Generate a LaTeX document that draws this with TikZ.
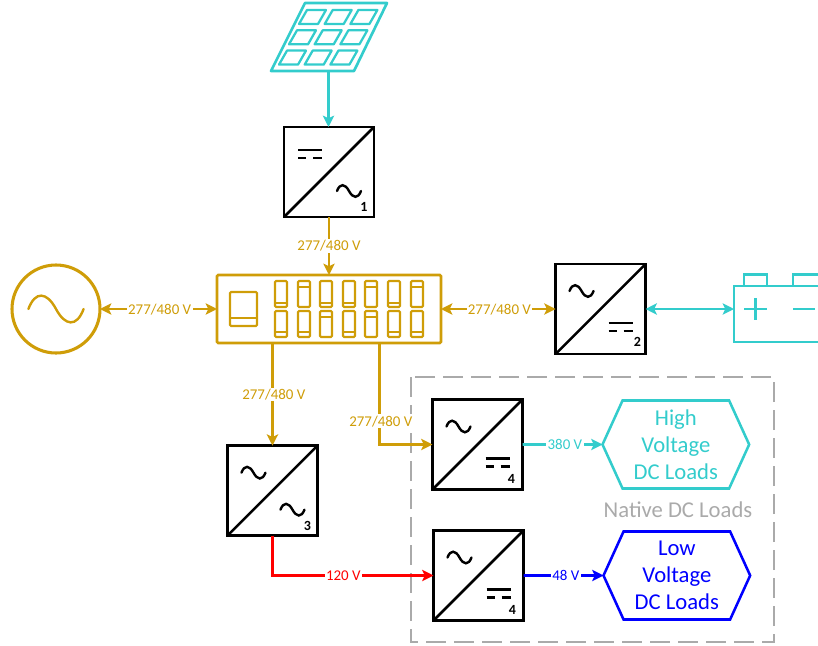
\documentclass[tikz,border=0pt]{standalone}
\usepackage{fontspec}
\setmainfont{Carlito}
\usetikzlibrary{shapes.symbols, arrows.meta, positioning}
\definecolor{busgold}{RGB}{207,157,8}
\definecolor{dcteal}{RGB}{51,204,204}
\definecolor{framegray}{RGB}{170,170,170}
\tikzstyle{conv} = [rectangle, minimum size=67.5pt, inner sep=0pt, outer sep=0pt, draw=black, line width=2.1pt, fill=white]
\tikzstyle{diag} = [draw=black, line width=1.9pt, line cap=round]
\tikzstyle{boxnum} = [inner sep=0pt, font=\fontsize{10.5}{10.5}\selectfont\bfseries]
\tikzstyle{bus} = [rectangle, rounded corners=1pt, minimum width=168pt, minimum height=51pt, inner sep=0pt, outer sep=0pt, draw=busgold, line width=2pt]
\tikzstyle{breaker} = [draw=busgold, line width=1.6pt, rounded corners=0.8pt]
\tikzstyle{load} = [signal, signal to=east and west, signal pointer angle=131, minimum width=110pt, minimum height=66pt, inner sep=0pt, outer sep=0pt, line width=1.9pt, align=center, font=\fontsize{17}{20.2}\selectfont]
\tikzstyle{volt} = [fill=white, inner sep=1pt, font=\fontsize{11.2}{11.2}\selectfont]
\tikzstyle{arrow} = [line width=2pt,-{Stealth[length=8.5pt,width=8.5pt,inset=2pt]}]
\tikzstyle{twoway} = [line width=2pt,{Stealth[length=8.5pt,width=8.5pt,inset=2pt]}-{Stealth[length=8.5pt,width=8.5pt,inset=2pt]}]
\tikzset{
  tildesym/.pic={\draw[line width=1.8pt, line cap=round] (-12,0) .. controls (-9,-8) and (-4,-7.5) .. (0,0) .. controls (4,7.5) and (9,8) .. (12,0);},
  dcsym/.pic={\draw[line width=1.8pt] (-12,-4) -- (12,-4);
    \draw[line width=1.8pt] (-12,4) -- (-4,4) (3,4) -- (12,4);}
}

\begin{document}
\begin{tikzpicture}[x=0.75pt, y=-0.75pt]
\clip (0,0) rectangle (818,646);
% Frame of the native loads
\draw [framegray, line width=1.9pt, dash pattern=on 15pt off 6pt] (411,377) rectangle (774,642);
% Define nodes
\node (bus) [bus] at (329,309) {};
\node (box1) [conv, above=43.5pt of bus] {};
\node (box2) [conv, right=85.9pt of bus] {};
\node (box3) [conv, below=77pt of bus, xshift=-42.4pt] {};
\node (box4a) [conv] at (477.5,444.5) {};
\node (box4b) [conv] at (478.5,575.5) {};
\node (acsrc) [circle, minimum size=66pt, inner sep=0pt, outer sep=0pt, draw=busgold, line width=2.3pt] at (56,309) {};
\node (highload) [load, draw=dcteal, text=dcteal, right=60pt of box4a] {High\\Voltage\\DC Loads};
\node (lowload) [load, draw=blue, text=blue, right=60pt of box4b] {Low\\Voltage\\DC Loads};
\node (nativelabel) [text=framegray, font=\fontsize{17}{17}\selectfont] at (678,510) {Native DC Loads};
\coordinate (pv) at (328.5,71);
\coordinate (battery) at (734,309);
\coordinate (busTap) at (379.5,343);
% Diagonals and symbols of the converters
\foreach \b in {box1,box2,box3,box4a,box4b}
  \draw [diag] (\b.south west) -- (\b.north east);
\pic at ([shift={(-19,-18)}]box1.center) {dcsym};
\pic at ([shift={(20,19)}]box1.center) {tildesym};
\pic at ([shift={(-19,-18)}]box2.center) {tildesym};
\pic at ([shift={(20,18)}]box2.center) {dcsym};
\pic at ([shift={(-19,-18)}]box3.center) {tildesym};
\pic at ([shift={(20,19)}]box3.center) {tildesym};
\pic at ([shift={(-19,-18)}]box4a.center) {tildesym};
\pic at ([shift={(20,18)}]box4a.center) {dcsym};
\pic at ([shift={(-19,-18)}]box4b.center) {tildesym};
\pic at ([shift={(20,18)}]box4b.center) {dcsym};
\node (num1) [boxnum] at ([shift={(35,35)}]box1.center) {1};
\node (num2) [boxnum] at ([shift={(37,33)}]box2.center) {2};
\node (num3) [boxnum] at ([shift={(35,35)}]box3.center) {3};
\node (num4a) [boxnum] at ([shift={(34,34)}]box4a.center) {4};
\node (num4b) [boxnum] at ([shift={(34,34)}]box4b.center) {4};
\pic [color=busgold, scale=2.3] at (acsrc.center) {tildesym};
% Solar panel
\draw [dcteal, line width=2pt, line join=round] (305,3) -- (387,3) -- (354,71) -- (271,71) -- cycle;
\foreach \i in {0,1,2}
  \foreach \j in {0,1,2}
    \draw [dcteal, line width=1.7pt, line join=round, shift={(\i*25.7-\j*10,\j*20.3)}] (307,10) -- (326,10) -- (318,24) -- (299,24) -- cycle;
% Battery
\draw [dcteal, line width=2pt] (818,286) -- (734,286) -- (734,342) -- (818,342);
\draw [dcteal, line width=2pt] (744,286) -- (744,274.5) -- (767,274.5) -- (767,286);
\draw [dcteal, line width=2pt] (793,286) -- (793,274.5) -- (818,274.5);
\draw [dcteal, line width=2pt] (744,309) -- (767,309) (755.5,298) -- (755.5,320) (793,309) -- (815,309);
% Breaker panel
\draw [breaker] (230,292) rectangle (257,326);
\draw [breaker] (230,318) -- (257,318);
\foreach \x/\t/\u in {281/303/332, 304/287/332, 326/303/317, 349/303/332, 371/287/317, 394/303/332, 417/287/332} {
  \draw [breaker] (\x-6,281) rectangle (\x+6,307);
  \draw [breaker] (\x-6,\t) -- (\x+6,\t);
  \draw [breaker] (\x-6,311) rectangle (\x+6,337);
  \draw [breaker] (\x-6,\u) -- (\x+6,\u);
}
% Connect nodes with arrows
\draw [arrow, dcteal] (pv) -- (pv |- box1.north);
\draw [arrow, busgold] (box1) -- node [volt, text=busgold, pos=0.5] {277/480 V} (bus);
\draw [twoway, busgold] (acsrc) -- node [volt, text=busgold, pos=0.51, yshift=-0.7pt] {277/480 V} (bus);
\draw [twoway, busgold] (bus) -- node [volt, text=busgold, pos=0.51, yshift=-0.7pt] {277/480 V} (box2);
\draw [twoway, dcteal] (box2) -- (battery);
\draw [arrow, busgold] (box3.north |- bus.south) -- node [volt, text=busgold, xshift=1pt] {277/480 V} (box3);
\draw [arrow, busgold] (busTap) |- node [volt, text=busgold, pos=0.385, xshift=1pt] {277/480 V} (box4a);
\draw [arrow, dcteal] (box4a) -- node [volt, text=dcteal, pos=0.53] {380 V} (highload);
\draw [arrow, red] (box3) |- node [volt, text=red, pos=0.72] {120 V} (box4b);
\draw [arrow, blue] (box4b) -- node [volt, text=blue, pos=0.53] {48 V} (lowload);
\end{tikzpicture}
\end{document}
